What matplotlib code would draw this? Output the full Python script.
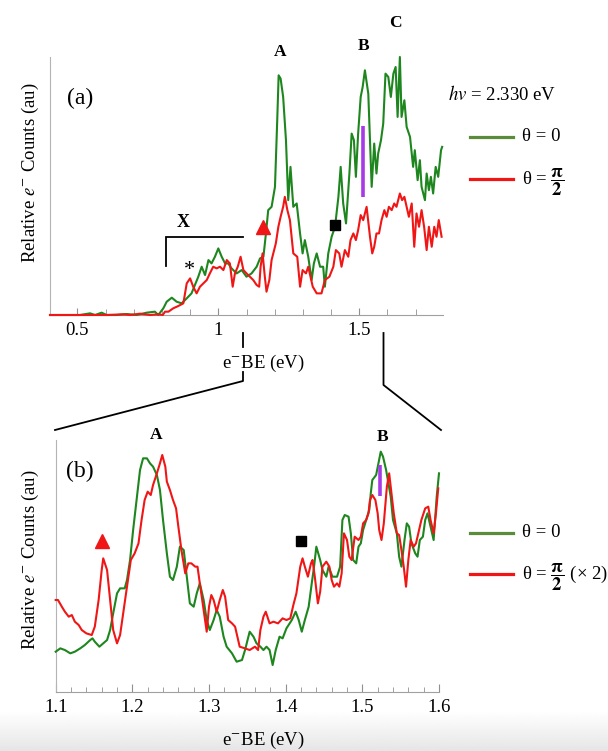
import numpy as np
import matplotlib.pyplot as plt
from matplotlib.lines import Line2D
from matplotlib.ticker import MultipleLocator

plt.rcParams['font.family'] = ['Liberation Serif', 'DejaVu Serif']
plt.rcParams['mathtext.fontset'] = 'stix'

GREEN = '#1e861e'
GREEN_KEY = '#5a8c3c'
RED = '#f01616'
PURPLE = '#a63ae6'

# (a) full photoelectron spectrum, theta = 0
ebe_a_0 = [0.403, 0.462, 0.509, 0.545, 0.563, 0.586, 0.604, 0.639, 0.675, 0.710,
           0.746, 0.775, 0.787, 0.805, 0.817, 0.835, 0.852, 0.870, 0.888, 0.905,
           0.917, 0.929, 0.941, 0.953, 0.965, 0.976, 0.988, 1.000, 1.012, 1.024,
           1.035, 1.047, 1.065, 1.083, 1.100, 1.118, 1.136, 1.148, 1.160, 1.169,
           1.177, 1.189, 1.201, 1.209, 1.214, 1.221, 1.230, 1.240, 1.248,
           1.256, 1.266, 1.278, 1.290, 1.299, 1.307, 1.319, 1.331, 1.339, 1.349,
           1.361, 1.372, 1.378, 1.390, 1.402, 1.414, 1.426, 1.434, 1.443, 1.453,
           1.465, 1.473, 1.481, 1.488, 1.496, 1.505, 1.512, 1.520, 1.532, 1.544,
           1.553, 1.561, 1.567, 1.577, 1.585, 1.593, 1.603, 1.612, 1.621, 1.629,
           1.636, 1.644, 1.650, 1.660, 1.668, 1.680, 1.691, 1.697, 1.707, 1.715,
           1.721, 1.733, 1.739, 1.747, 1.754, 1.762, 1.771, 1.780, 1.790, 1.794]
cnt_a_0 = [0.0, 0.0, 0.0, 0.5, 0.0, 0.7, 0.0, 0.0, 0.3, 0.0,
           0.7, 1.0, 0.0, 2.0, 4.0, 5.2, 4.0, 3.5, 5.0, 6.5,
           9.0, 11.5, 14.5, 12.0, 16.5, 15.5, 17.5, 20.0, 17.5, 15.5,
           15.5, 14.0, 12.5, 13.5, 11.5, 12.5, 14.5, 17.0, 17.5, 24.5,
           31.5, 32.5, 38.5, 58.5, 72.0, 71.0, 65.5, 52.5, 34.5,
           44.5, 32.5, 33.5, 24.5, 18.5, 22.5, 17.5, 10.5, 15.5, 18.5,
           14.5, 14.5, 8.5, 18.5, 23.5, 26.5, 35.5, 44.5, 33.5, 27.5,
           42.5, 54.5, 52.5, 41.5, 54.5, 65.5, 68.5, 73.5, 66.5, 38.5,
           51.5, 42.5, 48.5, 52.5, 57.5, 72.5, 71.5, 65.5, 72.5, 74.5,
           59.5, 77.5, 59.5, 64.5, 56.5, 53.5, 44.5, 49.5, 40.5, 46.5,
           38.5, 34.5, 42.5, 37.5, 41.5, 36.5, 44.5, 41.5, 49.5, 50.5]

# (a) theta = pi/2
ebe_a_90 = [0.403, 0.486, 0.545, 0.604, 0.663, 0.687, 0.722, 0.758, 0.787, 0.803,
            0.811, 0.823, 0.840, 0.858, 0.876, 0.888, 0.900, 0.911, 0.923, 0.935,
            0.947, 0.959, 0.970, 0.982, 0.994, 1.006, 1.018, 1.030, 1.041, 1.051,
            1.059, 1.069, 1.079, 1.089, 1.100, 1.112, 1.124, 1.136, 1.145, 1.150,
            1.157, 1.165, 1.171, 1.181, 1.189, 1.195, 1.204, 1.213, 1.221, 1.230,
            1.236, 1.245, 1.254, 1.266, 1.280, 1.290, 1.299, 1.311, 1.319, 1.335,
            1.349, 1.366, 1.378, 1.394, 1.408, 1.417, 1.429, 1.437, 1.449, 1.461,
            1.469, 1.479, 1.488, 1.496, 1.505, 1.514, 1.526, 1.538, 1.546, 1.553,
            1.561, 1.570, 1.579, 1.589, 1.597, 1.605, 1.615, 1.624, 1.632, 1.644,
            1.652, 1.660, 1.668, 1.676, 1.686, 1.695, 1.703, 1.712, 1.721, 1.730,
            1.739, 1.747, 1.757, 1.766, 1.774, 1.782, 1.792]
cnt_a_90 = [0.0, 0.0, 0.0, 0.0, 0.2, 0.0, 0.4, 0.0, 0.2, 0.0,
            1.0, 1.0, 2.0, 2.7, 3.5, 9.5, 11.0, 8.5, 6.5, 8.5,
            9.5, 10.5, 12.5, 14.5, 14.0, 14.5, 13.5, 16.5, 15.5, 8.5,
            12.5, 14.5, 17.5, 13.5, 12.5, 11.5, 10.5, 9.0, 8.5, 14.5,
            18.5, 11.5, 7.0, 10.5, 16.5, 18.5, 21.5, 26.5, 29.5, 32.5,
            35.5, 31.5, 28.5, 18.5, 17.5, 8.5, 13.5, 12.5, 14.5, 8.5,
            6.5, 6.5, 10.5, 11.5, 14.5, 19.5, 18.5, 14.5, 19.5, 17.5,
            22.5, 24.5, 22.5, 25.5, 30.0, 28.5, 32.5, 23.5, 18.5, 20.5,
            24.5, 24.5, 28.5, 31.5, 29.5, 32.5, 31.5, 33.5, 32.5, 36.5,
            34.5, 35.5, 32.5, 29.5, 33.5, 20.5, 30.5, 26.5, 31.5, 26.5,
            19.5, 26.5, 20.5, 26.5, 23.5, 28.5, 23.5]

# (b) zoom on 1.1-1.6 eV, theta = 0
ebe_b_0 = [1.100, 1.106, 1.112, 1.119, 1.125, 1.132, 1.138, 1.145, 1.148, 1.151,
           1.157, 1.162, 1.167, 1.171, 1.175, 1.180, 1.184, 1.190, 1.193, 1.197,
           1.201, 1.206, 1.210, 1.214, 1.219, 1.223, 1.227, 1.232, 1.236, 1.240,
           1.245, 1.249, 1.253, 1.258, 1.262, 1.267, 1.271, 1.275, 1.280, 1.284,
           1.288, 1.293, 1.297, 1.301, 1.306, 1.310, 1.314, 1.319, 1.323, 1.330,
           1.336, 1.343, 1.347, 1.353, 1.358, 1.362, 1.367, 1.371, 1.375, 1.379,
           1.383, 1.387, 1.392, 1.396, 1.401, 1.408, 1.413, 1.417, 1.421, 1.425,
           1.430, 1.434, 1.437, 1.440, 1.445, 1.448, 1.453, 1.456, 1.461, 1.467,
           1.471, 1.474, 1.477, 1.482, 1.485, 1.488, 1.492, 1.495, 1.498, 1.501,
           1.505, 1.509, 1.511, 1.513, 1.518, 1.521, 1.524, 1.527, 1.531, 1.534,
           1.537, 1.540, 1.545, 1.548, 1.551, 1.555, 1.558, 1.561, 1.564, 1.569,
           1.572, 1.575, 1.579, 1.582, 1.585, 1.588, 1.593, 1.597, 1.600]
cnt_b_0 = [12.0, 13.0, 12.5, 11.5, 12.0, 13.0, 14.0, 15.5, 16.0, 15.0,
           13.5, 14.5, 15.5, 18.5, 23.5, 29.5, 31.0, 31.0, 33.5, 39.5,
           48.5, 58.5, 66.5, 70.0, 70.0, 68.5, 67.5, 65.0, 60.5, 51.5,
           41.5, 34.5, 33.5, 37.5, 43.5, 42.5, 34.5, 26.5, 25.5, 29.5,
           32.5, 27.5, 21.5, 18.5, 21.5, 24.5, 22.5, 16.5, 13.5, 11.5,
           9.0, 9.5, 12.5, 18.0, 16.5, 14.5, 13.5, 12.5, 13.5, 12.5,
           8.0, 12.5, 16.5, 16.0, 19.0, 21.5, 24.0, 21.5, 18.0, 21.5,
           25.5, 32.5, 37.5, 43.5, 39.5, 36.5, 34.5, 37.5, 34.5, 34.5,
           37.5, 51.5, 53.0, 52.5, 47.5, 39.5, 38.5, 43.5, 44.5, 48.5,
           51.5, 54.5, 59.5, 63.5, 65.0, 68.5, 72.0, 70.5, 66.5, 62.5,
           58.5, 51.5, 47.5, 40.5, 37.5, 45.5, 50.5, 49.5, 44.5, 41.5,
           40.5, 45.5, 46.5, 51.5, 53.5, 50.5, 45.5, 58.5, 65.5]

# (b) theta = pi/2, scaled by 2
ebe_b_90 = [1.100, 1.103, 1.108, 1.112, 1.117, 1.121, 1.125, 1.130, 1.134, 1.140,
            1.147, 1.151, 1.156, 1.160, 1.162, 1.167, 1.171, 1.175, 1.180, 1.184,
            1.188, 1.193, 1.198, 1.203, 1.208, 1.212, 1.216, 1.220, 1.224, 1.227,
            1.232, 1.236, 1.239, 1.243, 1.245, 1.249, 1.253, 1.257, 1.260, 1.264,
            1.269, 1.273, 1.277, 1.282, 1.285, 1.288, 1.293, 1.297, 1.300, 1.303,
            1.306, 1.310, 1.314, 1.318, 1.321, 1.325, 1.330, 1.334, 1.340, 1.347,
            1.353, 1.360, 1.364, 1.367, 1.371, 1.374, 1.379, 1.384, 1.390, 1.396,
            1.401, 1.406, 1.410, 1.414, 1.419, 1.422, 1.425, 1.429, 1.433, 1.435,
            1.438, 1.442, 1.445, 1.448, 1.453, 1.457, 1.460, 1.463, 1.467, 1.470,
            1.473, 1.476, 1.480, 1.483, 1.486, 1.490, 1.495, 1.498, 1.501, 1.505,
            1.508, 1.510, 1.513, 1.517, 1.520, 1.522, 1.525, 1.528, 1.532, 1.535,
            1.538, 1.541, 1.545, 1.548, 1.551, 1.554, 1.557, 1.560, 1.563, 1.567,
            1.570, 1.574, 1.577, 1.582, 1.586, 1.589, 1.593, 1.596, 1.599]
cnt_b_90x2 = [27.5, 27.5, 25.5, 24.0, 22.5, 23.0, 21.0, 20.0, 18.5, 17.5,
              17.0, 19.5, 27.5, 36.5, 40.0, 36.5, 27.5, 18.5, 14.5, 17.0,
              23.5, 31.5, 39.5, 41.5, 44.5, 51.5, 57.5, 60.0, 59.0, 62.0,
              65.5, 68.5, 71.0, 67.5, 63.0, 60.5, 57.5, 55.0, 49.5, 42.5,
              35.5, 38.5, 38.5, 37.5, 37.5, 32.5, 24.5, 18.0, 25.5, 29.0,
              27.5, 24.0, 27.5, 30.5, 28.5, 21.5, 20.5, 19.5, 13.5, 13.0,
              12.5, 13.5, 12.5, 18.5, 22.5, 24.0, 20.5, 21.0, 20.5, 22.0,
              21.5, 22.0, 26.0, 29.5, 37.5, 40.0, 37.5, 34.5, 38.5, 39.5,
              34.5, 26.5, 30.0, 37.5, 39.0, 37.5, 33.5, 31.5, 32.5, 31.5,
              35.5, 47.5, 45.5, 40.5, 39.5, 46.5, 45.5, 46.5, 50.5, 51.5,
              53.5, 57.5, 59.0, 57.5, 53.5, 48.5, 45.5, 50.5, 61.5, 65.5,
              59.5, 53.5, 47.5, 47.0, 42.5, 37.5, 31.5, 39.5, 45.5, 43.5,
              44.5, 48.5, 51.5, 55.0, 55.5, 51.5, 47.5, 53.5, 61.0]

W, H = 608, 751


def fx(x):
    return x / W


def fy(y):
    return 1 - y / H


fig = plt.figure(figsize=(W / 100, H / 100), dpi=100)

# faint grey band along the bottom edge
band = fig.add_axes([0, 0, 1, fy(712)], zorder=-10)
band.imshow(np.linspace(1.0, 0.9, 50)[:, None], cmap='gray', vmin=0, vmax=1,
            aspect='auto', extent=[0, 1, 1, 0])
band.axis('off')

ax1 = fig.add_axes([fx(50), fy(315), (443 - 50) / W, (315 - 57) / H])
ax2 = fig.add_axes([fx(55.7), fy(691.7), (439 - 55.7) / W, (691.7 - 440) / H])

for ax in (ax1, ax2):
    ax.patch.set_alpha(0)
    for s in ('top', 'right'):
        ax.spines[s].set_visible(False)
    ax.spines['left'].set_color('#b4b4b4')
    ax.spines['bottom'].set_color('#a0a0a0')
    ax.set_yticks([])
    ax.tick_params(axis='x', which='both', direction='in', color='#909090',
                   labelsize=13.5, pad=5)

# --- panel (a)
ax1.plot(ebe_a_0, cnt_a_0, color=GREEN, lw=1.5, clip_on=False, zorder=3)
ax1.plot(ebe_a_90, cnt_a_90, color=RED, lw=1.5, clip_on=False, zorder=4)
ax1.set_xlim(0.403, 1.797)
ax1.set_ylim(0, 77.5)
ax1.set_xticks([0.5, 1.0, 1.5])
ax1.set_xticklabels(['0.5', '1', '1.5'])
ax1.xaxis.set_minor_locator(MultipleLocator(0.1))
ax1.tick_params(axis='x', which='major', length=5)
ax1.tick_params(axis='x', which='minor', length=4)

ax1.text(0.076, 0.84, '(a)', transform=ax1.transAxes, fontsize=17,
         ha='center', va='center')
for lbl, x, y in [('A', 1.219, 79.0), ('B', 1.516, 80.7), ('C', 1.630, 87.7)]:
    ax1.text(x, y, lbl, fontsize=12.5, fontweight='bold', ha='center', va='center')
ax1.text(0.876, 27.9, 'X', fontsize=13, fontweight='bold', ha='center', va='center')
ax1.text(0.896, 13.4, '*', fontsize=16, ha='center', va='center')
ax1.plot([0.8147, 0.8147, 1.089], [14.8, 23.4, 23.4], color='black', lw=1.3,
         solid_joinstyle='miter')
ax1.plot(1.1585, 26.4, marker='^', ms=10.5, color=RED, zorder=5)
ax1.plot(1.414, 27.0, marker='s', ms=7.5, color='black', zorder=5)
ax1.plot([1.512, 1.512], [35.4, 56.7], color=PURPLE, lw=2.6,
         solid_capstyle='butt', zorder=5)

# --- panel (b)
ax2.plot(ebe_b_0, cnt_b_0, color=GREEN, lw=1.5, clip_on=False, zorder=3)
ax2.plot(ebe_b_90, cnt_b_90x2, color=RED, lw=1.5, clip_on=False, zorder=4)
ax2.set_xlim(1.1, 1.6)
ax2.set_ylim(0, 75.5)
ax2.set_xticks([1.1, 1.2, 1.3, 1.4, 1.5, 1.6])
ax2.xaxis.set_minor_locator(MultipleLocator(0.02))
ax2.tick_params(axis='x', which='major', length=6)
ax2.tick_params(axis='x', which='minor', length=3.5)

ax2.text(0.063, 0.874, '(b)', transform=ax2.transAxes, fontsize=17,
         ha='center', va='center')
ax2.text(1.2304, 77.0, 'A', fontsize=12.5, fontweight='bold', ha='center', va='center')
ax2.text(1.526, 76.3, 'B', fontsize=12.5, fontweight='bold', ha='center', va='center')
ax2.plot(1.160, 45.3, marker='^', ms=10.5, color=RED, clip_on=False, zorder=5)
ax2.plot(1.420, 45.3, marker='s', ms=7.5, color='black', clip_on=False, zorder=5)
ax2.plot([1.523, 1.523], [58.7, 68.0], color=PURPLE, lw=2.6,
         solid_capstyle='butt', zorder=5)

# axis titles
ylab = r'Relative $e^{-}$ Counts (au)'
fig.text(fx(30), fy(173), ylab, rotation=90, fontsize=13.5, ha='center', va='center')
fig.text(fx(30), fy(560), ylab, rotation=90, fontsize=13.5, ha='center', va='center')
xlab = r'e$^{-}$BE (eV)'
fig.text(fx(263), fy(363), xlab, fontsize=13.5, ha='center', va='center')
fig.text(fx(263.5), fy(740), xlab, fontsize=13.5, ha='center', va='center')

# zoom connector from (a) to (b)
for xs, ys in [([243, 243], [333, 347]),
               ([243, 243, 55], [372, 381, 430]),
               ([383.5, 383.5, 441], [333, 385, 430])]:
    fig.add_artist(Line2D([fx(v) for v in xs], [fy(v) for v in ys],
                          transform=fig.transFigure, color='black', lw=1.3))

# legends
fig.text(fx(448), fy(95), r'$hv$ = 2.330 eV', fontsize=13.5, ha='left', va='center')
half_pi = r'$\mathbf{\dfrac{\pi}{2}}$'
keys = [(136.5, GREEN_KEY, 'θ = 0', 136.5),
        (178.5, RED, 'θ = ' + half_pi, 182),
        (532.5, GREEN_KEY, 'θ = 0', 532.5),
        (574, RED, 'θ = ' + half_pi + ' (× 2)', 577.5)]
for y, col, txt, ty in keys:
    fig.add_artist(Line2D([fx(470), fx(513)], [fy(y), fy(y)],
                          transform=fig.transFigure, color=col, lw=2.3))
    fig.text(fx(522), fy(ty), txt, fontsize=13.5, ha='left', va='center')

fig.savefig('out.png', dpi=100)
